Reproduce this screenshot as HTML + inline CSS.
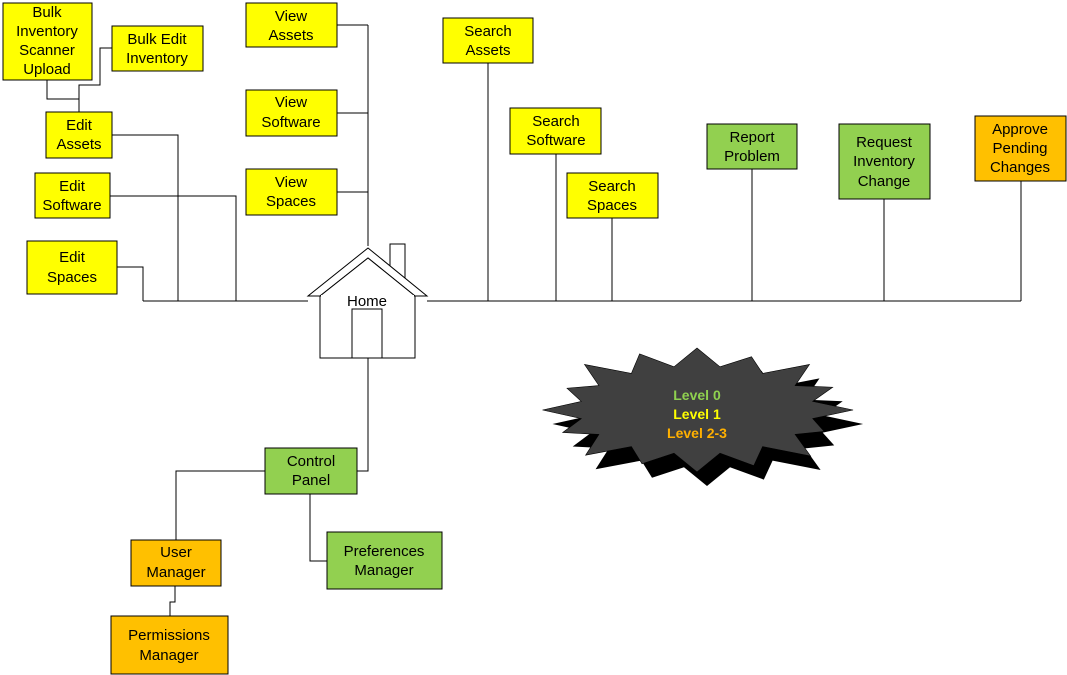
<!DOCTYPE html>
<html><head><style>
html,body{margin:0;padding:0;background:#fff;width:1067px;height:675px;overflow:hidden}
text{font-family:"Liberation Sans",sans-serif;font-size:15px;text-anchor:middle}
</style></head><body>
<svg width="1067" height="675" viewBox="0 0 1067 675" xmlns="http://www.w3.org/2000/svg">
<g stroke="#000" stroke-width="1" fill="none">
<path d="M143 301H308M427 301H1021"/>
<path d="M117 267H143V301M112 135H178V301M110 196H236V301"/>
<path d="M47 80V99H79M203 48H100V85H79V112M79 85V99"/>
<path d="M368 25V246M337 25H368M337 113H368M337 192H368"/>
<path d="M488 63V301M556 154V301M612 218V301M752 169V301M884 199V301M1021 181V301"/>
<path d="M368 358V471H357M265 471H176V540M310 494V561H327M175 586V602H170V616"/>
</g>
<g stroke="#000" stroke-width="1" fill="#fff">
<rect x="390" y="244" width="15" height="40"/>
<polygon points="368,248 427,296 415,296 368,258 320,296 308,296"/>
<rect x="320" y="296" width="95" height="62"/>
<polygon points="368,258 415,296 320,296"/>
<rect x="352" y="309" width="30" height="49"/>
</g>
<rect x="321" y="295" width="93" height="3" fill="#fff"/>
<text x="367" y="306">Home</text>
<polygon id="sh" fill="#000" points=""/>
<polygon id="st" fill="#404040" stroke="#000" stroke-width="0.6" points=""/>
<text x="697" y="400" fill="#8fd14f" style="font-size:14px;font-weight:bold">Level 0</text>
<text x="697" y="419" fill="#ffff00" style="font-size:14px;font-weight:bold">Level 1</text>
<text x="697" y="438" fill="#ffb000" style="font-size:14px;font-weight:bold">Level 2-3</text>
<g stroke="#000" stroke-width="1">
<rect x="3" y="3" width="89" height="77" fill="#ffff00"/>
<rect x="112" y="26" width="91" height="45" fill="#ffff00"/>
<rect x="46" y="112" width="66" height="46" fill="#ffff00"/>
<rect x="35" y="173" width="75" height="45" fill="#ffff00"/>
<rect x="27" y="241" width="90" height="53" fill="#ffff00"/>
<rect x="246" y="3" width="91" height="44" fill="#ffff00"/>
<rect x="246" y="90" width="91" height="46" fill="#ffff00"/>
<rect x="246" y="169" width="91" height="46" fill="#ffff00"/>
<rect x="443" y="18" width="90" height="45" fill="#ffff00"/>
<rect x="510" y="108" width="91" height="46" fill="#ffff00"/>
<rect x="567" y="173" width="91" height="45" fill="#ffff00"/>
<rect x="707" y="124" width="90" height="45" fill="#92d050"/>
<rect x="839" y="124" width="91" height="75" fill="#92d050"/>
<rect x="975" y="116" width="91" height="65" fill="#ffc000"/>
<rect x="265" y="448" width="92" height="46" fill="#92d050"/>
<rect x="131" y="540" width="90" height="46" fill="#ffc000"/>
<rect x="327" y="532" width="115" height="57" fill="#92d050"/>
<rect x="111" y="616" width="117" height="58" fill="#ffc000"/>
</g>
<g fill="#000">
<text x="47" y="17">Bulk</text><text x="47" y="36">Inventory</text><text x="47" y="55">Scanner</text><text x="47" y="74">Upload</text>
<text x="157" y="44">Bulk Edit</text><text x="157" y="63">Inventory</text>
<text x="79" y="130">Edit</text><text x="79" y="149">Assets</text>
<text x="72" y="191">Edit</text><text x="72" y="210">Software</text>
<text x="72" y="262">Edit</text><text x="72" y="282">Spaces</text>
<text x="291" y="21">View</text><text x="291" y="40">Assets</text>
<text x="291" y="107">View</text><text x="291" y="127">Software</text>
<text x="291" y="187">View</text><text x="291" y="206">Spaces</text>
<text x="488" y="36">Search</text><text x="488" y="55">Assets</text>
<text x="556" y="126">Search</text><text x="556" y="145">Software</text>
<text x="612" y="191">Search</text><text x="612" y="210">Spaces</text>
<text x="752" y="142">Report</text><text x="752" y="161">Problem</text>
<text x="884" y="147">Request</text><text x="884" y="166">Inventory</text><text x="884" y="186">Change</text>
<text x="1020" y="134">Approve</text><text x="1020" y="153">Pending</text><text x="1020" y="172">Changes</text>
<text x="311" y="466">Control</text><text x="311" y="485">Panel</text>
<text x="176" y="557">User</text><text x="176" y="577">Manager</text>
<text x="384" y="556">Preferences</text><text x="384" y="575">Manager</text>
<text x="169" y="640">Permissions</text><text x="169" y="660">Manager</text>
</g>
</svg>
<script>
(function(){
var cx=697,cy=410,n=16,pts=[];
var jit=[1,0.93,1.04,0.96,1.02,0.9,1.05,0.97,1,0.94,1.03,0.95,1.01,0.92,1.04,0.98];
for(var i=0;i<2*n;i++){
 var a=Math.PI*i/n - Math.PI/2;
 var o=i%2==0;
 var rx=o?153*jit[(i/2)|0]:118, ry=o?62*jit[(i/2)|0]:44;
 pts.push([cx+rx*Math.cos(a), cy+ry*Math.sin(a)]);
}
document.getElementById('st').setAttribute('points',pts.map(function(p){return p[0].toFixed(1)+','+p[1].toFixed(1)}).join(' '));
document.getElementById('sh').setAttribute('points',pts.map(function(p){return (p[0]+10).toFixed(1)+','+(p[1]+14).toFixed(1)}).join(' '));
})();
</script>
</body></html>
